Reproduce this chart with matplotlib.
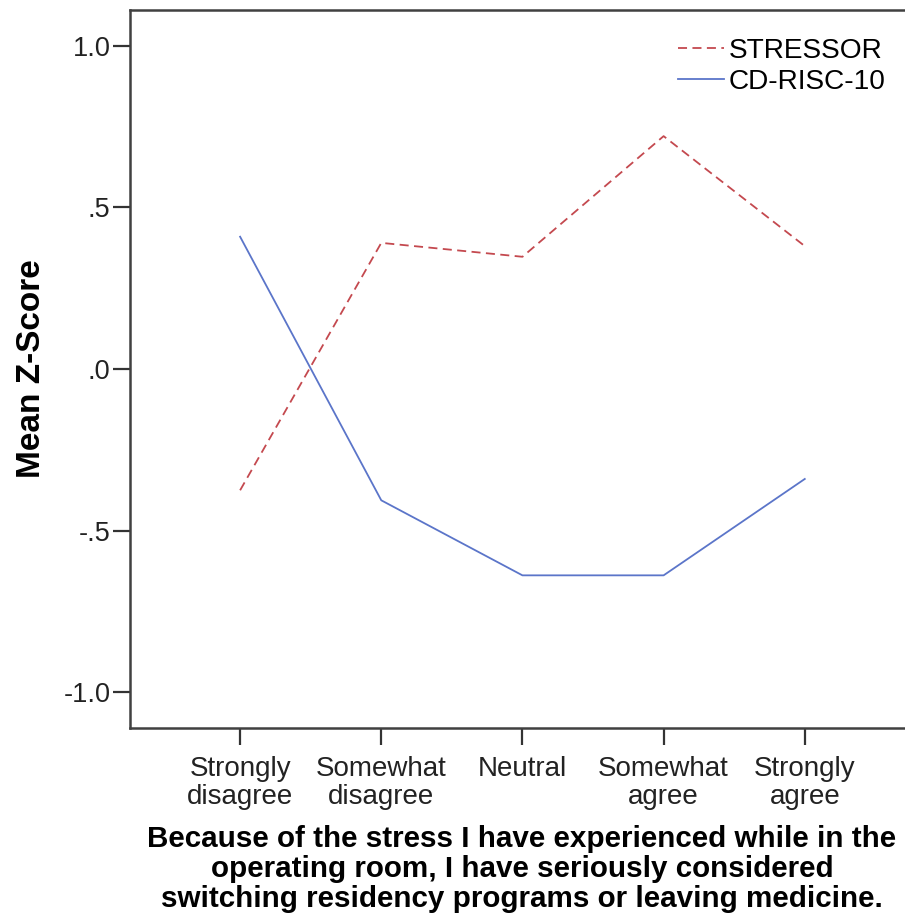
import numpy as np
import matplotlib.pyplot as plt

plt.rcParams['font.family'] = ['Liberation Sans', 'DejaVu Sans']

categories = ["Strongly\ndisagree", "Somewhat\ndisagree", "Neutral", "Somewhat\nagree", "Strongly\nagree"]
stressor = [-0.375, 0.39, 0.347, 0.72, 0.38]
cd_risc = [0.409, -0.406, -0.638, -0.638, -0.34]
yticks = [-1.0, -0.5, 0.0, 0.5, 1.0]
ytick_labels = ["-1.0", "-.5", ".0", ".5", "1.0"]

W, H = 905, 915
fig = plt.figure(figsize=(W / 100, H / 100), dpi=100)
ax = fig.add_axes([130 / W, (H - 728) / H, (W - 130) / W, (728 - 10) / H])

x = np.arange(len(categories))
ax.plot(x, stressor, color="#c4494f", lw=1.3, ls=(0, (5, 3)), label="STRESSOR")
ax.plot(x, cd_risc, color="#5b75c9", lw=1.3, label="CD-RISC-10")

ax.set_xlim(-0.78, 4.71)
ax.set_ylim(-1.11, 1.11)
ax.set_xticks(x)
ax.set_xticklabels(categories, fontsize=20, color="#222222", linespacing=1.12)
ax.set_yticks(yticks)
ax.set_yticklabels(ytick_labels, fontsize=19.5, color="#222222")
ax.tick_params(axis="y", direction="out", length=12, width=1.6, color="#333333", pad=2)
ax.tick_params(axis="x", direction="out", length=12, width=1.6, color="#333333", pad=8)

for side in ["left", "top", "bottom"]:
    ax.spines[side].set_linewidth(1.8)
    ax.spines[side].set_color("#404040")
ax.spines["right"].set_visible(False)

ax.set_ylabel("Mean Z-Score", fontsize=24, fontweight="bold")
ax.yaxis.set_label_coords(-(130 - 47) / 775, 0.5)
ax.set_xlabel("Because of the stress I have experienced while in the\n"
              "operating room, I have seriously considered\n"
              "switching residency programs or leaving medicine.",
              fontsize=21.3, fontweight="bold", linespacing=1.08)
ax.xaxis.set_label_coords((522 - 130) / 775, -(825 - 728) / 718)
ax.xaxis.label.set_va("top")

leg = ax.legend(loc="upper right", bbox_to_anchor=(0.997, 0.985), frameon=False,
                fontsize=20.2, handlelength=1.65, handletextpad=0.18,
                labelspacing=0.2, borderaxespad=0.2)

fig.savefig("out.png", dpi=100)
